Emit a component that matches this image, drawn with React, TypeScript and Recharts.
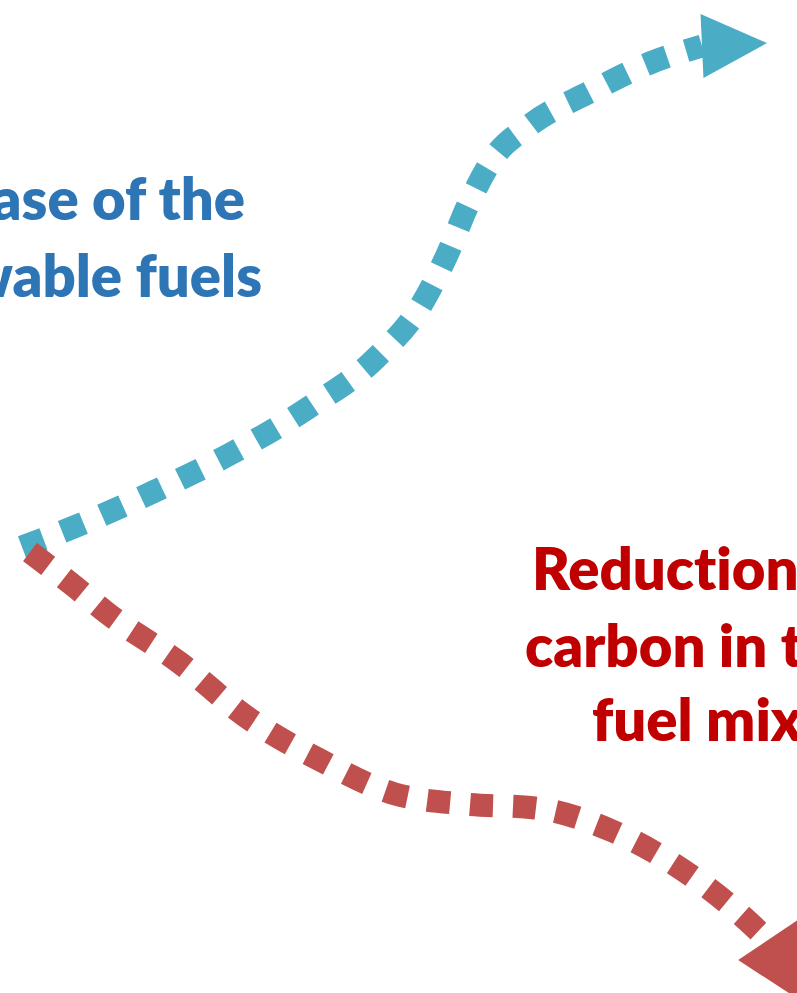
import React from 'react';
import { LineChart, Line, XAxis, YAxis, Customized } from 'recharts';

// centre-line points of the two dotted paths (picture units, y grows downward)
const bluePath = [
  { x: 22, y: 547 },
  { x: 74, y: 527 },
  { x: 153, y: 492 },
  { x: 232, y: 453 },
  { x: 308, y: 408 },
  { x: 377, y: 357 },
  { x: 420, y: 307 },
  { x: 447, y: 255 },
  { x: 468, y: 205 },
  { x: 492, y: 160 },
  { x: 530, y: 125 },
  { x: 590, y: 92 },
  { x: 650, y: 63 },
  { x: 702, y: 46 },
];

const redPath = [
  { x: 30, y: 552 },
  { x: 74, y: 586 },
  { x: 107, y: 613 },
  { x: 180, y: 663 },
  { x: 248, y: 718 },
  { x: 320, y: 760 },
  { x: 395, y: 794 },
  { x: 465, y: 804 },
  { x: 535, y: 808 },
  { x: 610, y: 830 },
  { x: 693, y: 877 },
  { x: 727, y: 903 },
  { x: 768, y: 940 },
];

// where each arrow head ends
const blueTip = { x: 767, y: 43 };
const redTip = { x: 815, y: 1010 };

const blueLines = ['Increase of the', 'renewable fuels'];
const redLines = ['Reduction of', 'carbon in the', 'fuel mix'];

const W = 797;
const H = 993;
const BLUE = '#4BACC6';
const RED = '#C0504D';

const arrowHead = (path: { x: number; y: number }[], tip: { x: number; y: number }, color: string, half: number) =>
  (props: any) => {
    const { cx, cy, index } = props;
    if (index !== path.length - 1) return <g key={`d${index}`} />;
    const base = path[path.length - 1];
    const dx = tip.x - base.x;
    const dy = tip.y - base.y;
    const len = Math.sqrt(dx * dx + dy * dy);
    const nx = -dy / len;
    const ny = dx / len;
    const pts = [
      [cx + dx, cy + dy],
      [cx + nx * half, cy + ny * half],
      [cx - nx * half, cy - ny * half],
    ]
      .map((p) => p.join(','))
      .join(' ');
    return <polygon key={`d${index}`} points={pts} fill={color} />;
  };

const Labels = () => (
  <g
    style={{
      fontFamily: 'Lato, "Open Sans", sans-serif',
      fontWeight: 800,
      fontSize: 58,
      fontVariantLigatures: 'none',
    }}
  >
    <text x={245} y={220} textAnchor="end" fill="#2E75B6">{blueLines[0]}</text>
    <text x={262} y={297} textAnchor="end" fill="#2E75B6">{blueLines[1]}</text>
    <text x={532} y={590} fill="#C00000">{redLines[0]}</text>
    <text x={525} y={667} fill="#C00000">{redLines[1]}</text>
    <text x={592} y={741} fill="#C00000">{redLines[2]}</text>
  </g>
);

const App = () => (
  <div style={{ position: 'absolute', left: 0, top: 0, width: W, height: H, background: '#fff' }}>
    <LineChart width={W} height={H} margin={{ top: 0, right: 0, bottom: 0, left: 0 }}>
      <XAxis type="number" dataKey="x" domain={[0, W]} hide allowDataOverflow />
      <YAxis type="number" dataKey="y" domain={[0, H]} reversed hide allowDataOverflow />
      <Customized component={Labels} />
      <Line
        data={bluePath}
        dataKey="y"
        type="monotone"
        stroke={BLUE}
        strokeWidth={23}
        strokeDasharray="23 20"
        strokeLinecap="butt"
        dot={arrowHead(bluePath, blueTip, BLUE, 32)}
        activeDot={false}
        isAnimationActive={false}
      />
      <Line
        data={redPath}
        dataKey="y"
        type="monotone"
        stroke={RED}
        strokeWidth={23}
        strokeDasharray="23 20"
        strokeLinecap="butt"
        dot={arrowHead(redPath, redTip, RED, 36)}
        activeDot={false}
        isAnimationActive={false}
      />
    </LineChart>
  </div>
);

export default App;
